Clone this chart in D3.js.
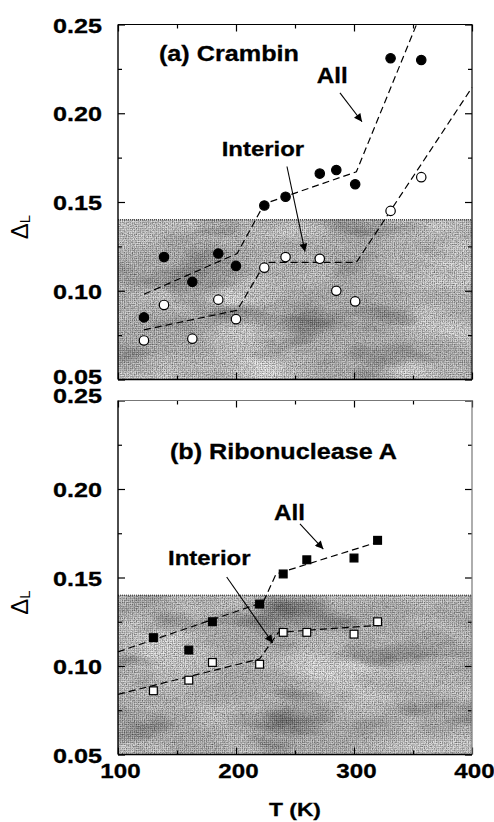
<!DOCTYPE html>
<html>
<head>
<meta charset="utf-8">
<script src="https://cdnjs.cloudflare.com/ajax/libs/d3/7.8.5/d3.min.js"></script>
<style>
  body { margin: 0; background: #fff; }
  text { font-family: "Liberation Sans", Arial, sans-serif; }
</style>
</head>
<body>
<svg id="chart" width="494" height="822"></svg>
<script>
// ---- data ----
var crambinT        = [ 122, 139, 163, 185, 200, 224, 242, 271, 285, 301, 331, 357 ];
var crambinAll      = [ 0.085, 0.119, 0.105, 0.121, 0.114, 0.148, 0.153, 0.166, 0.168, 0.160, 0.231, 0.230 ];
var crambinInterior = [ 0.072, 0.092, 0.073, 0.095, 0.084, 0.113, 0.119, 0.118, 0.100, 0.094, 0.145, 0.164 ];

var crambinAllFitT  = [ 122, 201, 224, 302, 353 ];
var crambinAllFit   = [ 0.098, 0.121, 0.149, 0.167, 0.250 ];
var crambinIntFitT  = [ 122, 201, 225, 302, 400 ];
var crambinIntFit   = [ 0.078, 0.089, 0.116, 0.116, 0.2145 ];

var ribT        = [ 130, 160, 180, 220, 240, 260, 300, 320 ];
var ribAll      = [ 0.116, 0.109, 0.125, 0.135, 0.152, 0.160, 0.161, 0.171 ];
var ribInterior = [ 0.086, 0.092, 0.102, 0.101, 0.119, 0.119, 0.118, 0.125 ];

var ribAllFitT  = [ 100, 223, 234, 320 ];
var ribAllFit   = [ 0.108, 0.136, 0.152, 0.170 ];
var ribIntFitT  = [ 100, 220, 236, 320 ];
var ribIntFit   = [ 0.084, 0.104, 0.119, 0.123 ];

var xMajor = [ 100, 200, 300, 400 ];
var xMinor = [ 150, 250, 350 ];
var yMajor = [ 0.05, 0.10, 0.15, 0.20, 0.25 ];
var yMinor = [ 0.075, 0.125, 0.175, 0.225 ];
var shadeLevel = 0.14;

// ---- layout ----
var MARGIN = { left: 118, right: 472 };
var svg = d3.select( "#chart" );
var x = d3.scaleLinear().domain( [ 100, 400 ] ).range( [ MARGIN.left, MARGIN.right ] );

var panels = [
  { top: 24.5, bottom: 379.5, marker: "circle",
    title: "(a) Crambin", titleAt: [ 134.7, 0.2295 ], titleW: 140,
    all: crambinAll, interior: crambinInterior, T: crambinT,
    allFit: [ crambinAllFitT, crambinAllFit ], intFit: [ crambinIntFitT, crambinIntFit ],
    allLabel: [ 268.4, 0.217 ], intLabel: [ 187.9, 0.1757 ],
    allArrow: [ [ 288.1, 0.2115 ], [ 306.8, 0.1952 ] ],
    intArrow: [ [ 243.2, 0.170 ], [ 258.5, 0.122 ] ], faint: false, seed: 4 },
  { top: 400.5, bottom: 754.5, marker: "square",
    title: "(b) Ribonuclease A", titleAt: [ 144, 0.217 ], titleW: 227,
    all: ribAll, interior: ribInterior, T: ribT,
    allFit: [ ribAllFitT, ribAllFit ], intFit: [ ribIntFitT, ribIntFit ],
    allLabel: [ 232.2, 0.1826 ], intLabel: [ 142.4, 0.1572 ],
    allArrow: [ [ 254.2, 0.1803 ], [ 274, 0.1661 ] ],
    intArrow: [ [ 192.1, 0.1503 ], [ 231.1, 0.113 ] ], faint: true, seed: 9 }
];

// ---- defs: arrowhead, texture ----
var defs = svg.append( "defs" );
defs.append( "marker" )
  .attr( "id", "arrow" ).attr( "viewBox", "0 0 10 10" )
  .attr( "refX", 10 ).attr( "refY", 5 )
  .attr( "markerWidth", 10 ).attr( "markerHeight", 8 )
  .attr( "markerUnits", "userSpaceOnUse" )
  .attr( "orient", "auto" )
  .append( "path" ).attr( "d", "M0,0 L10,5 L0,10 z" ).attr( "fill", "#000" );

function noiseFilter( id, freq, seed, matrix ){
  var f = defs.append( "filter" ).attr( "id", id )
    .attr( "x", 0 ).attr( "y", 0 ).attr( "width", 1 ).attr( "height", 1 );
  f.append( "feTurbulence" ).attr( "type", "fractalNoise" )
    .attr( "baseFrequency", freq ).attr( "numOctaves", 3 ).attr( "seed", seed );
  f.append( "feColorMatrix" ).attr( "type", "matrix" ).attr( "values", matrix );
}
panels.forEach( function( p, i ){
  noiseFilter( "light" + i, "0.01 0.025", p.seed, "0 0 0 0 1  0 0 0 0 1  0 0 0 0 1  1.6 0 0 0 -0.62" );
  noiseFilter( "dark" + i, "0.012 0.03", p.seed + 20, "0 0 0 0 0  0 0 0 0 0  0 0 0 0 0  0 1.0 0 0 -0.52" );
} );
noiseFilter( "grain", "0.9", 2, "0 0 0 0 0  0 0 0 0 0  0 0 0 0 0  0.9 0 0 0 -0.32" );

var dither = defs.append( "pattern" ).attr( "id", "dither" )
  .attr( "width", 2 ).attr( "height", 2 ).attr( "patternUnits", "userSpaceOnUse" );
dither.append( "rect" ).attr( "width", 1 ).attr( "height", 1 ).attr( "fill", "#000" ).attr( "opacity", 0.16 );
dither.append( "rect" ).attr( "x", 1 ).attr( "y", 1 ).attr( "width", 1 ).attr( "height", 1 ).attr( "fill", "#fff" ).attr( "opacity", 0.25 );

function stretch( sel, k ){
  sel.each( function(){
    var w = this.getComputedTextLength();
    d3.select( this ).attr( "textLength", w * k ).attr( "lengthAdjust", "spacingAndGlyphs" );
  } );
}

function boldText( g, str, px, py, size ){
  return g.append( "text" )
    .attr( "x", px ).attr( "y", py )
    .attr( "font-size", size ).attr( "font-weight", "bold" )
    .attr( "stroke", "#000" ).attr( "stroke-width", 0.3 )
    .text( str );
}

panels.forEach( function( p, idx ){
  var y = d3.scaleLinear().domain( [ 0.05, 0.25 ] ).range( [ p.bottom, p.top ] );
  var g = svg.append( "g" );
  var w = x( 400 ) - x( 100 );

  // shaded region below 0.14
  var sh = g.append( "g" );
  var sy = y( shadeLevel ), sh_h = y( 0.05 ) - y( shadeLevel );
  function shadeRect(){
    return sh.append( "rect" ).attr( "x", x( 100 ) ).attr( "y", sy ).attr( "width", w ).attr( "height", sh_h );
  }
  shadeRect().attr( "fill", "#bebebe" );
  shadeRect().attr( "fill", "#000" ).attr( "filter", "url(#light" + idx + ")" );
  shadeRect().attr( "fill", "#000" ).attr( "filter", "url(#dark" + idx + ")" );
  shadeRect().attr( "fill", "#000" ).attr( "filter", "url(#grain)" );
  shadeRect().attr( "fill", "url(#dither)" );
  g.append( "line" )
    .attr( "x1", x( 100 ) ).attr( "x2", x( 400 ) ).attr( "y1", sy ).attr( "y2", sy )
    .attr( "stroke", "#222" ).attr( "stroke-width", 1 ).attr( "stroke-dasharray", "1,1" );

  // ticks (inward) on all four sides
  function ticks( axisFn, vals, size, tx ){
    var a = g.append( "g" ).attr( "transform", tx ).call( axisFn.tickValues( vals ).tickSize( -size ).tickFormat( "" ) );
    a.select( ".domain" ).remove();
    a.selectAll( "line" ).attr( "stroke", "#000" ).attr( "stroke-width", 1.2 );
  }
  ticks( d3.axisLeft( y ), yMajor, 7, "translate(" + x( 100 ) + ",0)" );
  ticks( d3.axisLeft( y ), yMinor, 4, "translate(" + x( 100 ) + ",0)" );
  ticks( d3.axisRight( y ), yMajor, 7, "translate(" + x( 400 ) + ",0)" );
  ticks( d3.axisRight( y ), yMinor, 4, "translate(" + x( 400 ) + ",0)" );
  ticks( d3.axisBottom( x ), xMajor, 7, "translate(0," + p.bottom + ")" );
  ticks( d3.axisBottom( x ), xMinor, 4, "translate(0," + p.bottom + ")" );
  ticks( d3.axisTop( x ), xMajor, 7, "translate(0," + p.top + ")" );
  ticks( d3.axisTop( x ), xMinor, 4, "translate(0," + p.top + ")" );

  // frame
  var fc = p.faint ? "#777" : "#000";
  g.append( "line" ).attr( "x1", x( 100 ) ).attr( "x2", x( 400 ) ).attr( "y1", p.top ).attr( "y2", p.top ).attr( "stroke", fc ).attr( "stroke-width", 1.2 );
  g.append( "line" ).attr( "x1", x( 400 ) ).attr( "x2", x( 400 ) ).attr( "y1", p.top ).attr( "y2", p.bottom ).attr( "stroke", fc ).attr( "stroke-width", 1.2 );
  g.append( "line" ).attr( "x1", x( 100 ) ).attr( "x2", x( 400 ) ).attr( "y1", p.bottom ).attr( "y2", p.bottom ).attr( "stroke", "#000" ).attr( "stroke-width", 1.4 );
  g.append( "line" ).attr( "x1", x( 100 ) ).attr( "x2", x( 100 ) ).attr( "y1", p.top ).attr( "y2", p.bottom ).attr( "stroke", "#000" ).attr( "stroke-width", 1.4 );

  // y tick labels; the two labels where the panels meet are nudged apart
  var yl = g.append( "g" ).attr( "transform", "translate(" + x( 100 ) + ",0)" )
    .call( d3.axisLeft( y ).tickValues( yMajor ).tickSize( 0 ).tickPadding( 16 ).tickFormat( d3.format( ".2f" ) ) );
  yl.select( ".domain" ).remove();
  yl.selectAll( "text" )
    .attr( "font-family", "Liberation Sans, Arial, sans-serif" )
    .attr( "font-size", 21 ).attr( "font-weight", "bold" ).attr( "fill", "#000" )
    .attr( "stroke", "#000" ).attr( "stroke-width", 0.3 )
    .attr( "dy", function( d ){
      if( idx == 0 && d == 0.05 ) return 4;
      if( idx == 1 && d == 0.25 ) return 1.5;
      return 7.5;
    } );
  stretch( yl.selectAll( "text" ), 1.2 );

  // y axis title: Delta_L
  var yt = g.append( "text" )
    .attr( "transform", "translate(28," + ( ( p.top + p.bottom ) / 2 + 25 ) + ") rotate(-90)" )
    .attr( "text-anchor", "middle" )
    .attr( "font-size", 24 );
  yt.append( "tspan" ).text( "\u0394" );
  yt.append( "tspan" ).attr( "font-size", 15 ).attr( "dy", 2 ).text( "L" );

  // x tick labels + title on the bottom panel only
  if( idx == panels.length - 1 ){
    var xl = g.append( "g" ).attr( "transform", "translate(2," + p.bottom + ")" )
      .call( d3.axisBottom( x ).tickValues( xMajor ).tickSize( 0 ).tickPadding( 9 ).tickFormat( d3.format( "d" ) ) );
    xl.select( ".domain" ).remove();
    xl.selectAll( "text" )
      .attr( "font-family", "Liberation Sans, Arial, sans-serif" )
      .attr( "font-size", 21 ).attr( "font-weight", "bold" ).attr( "fill", "#000" )
      .attr( "stroke", "#000" ).attr( "stroke-width", 0.3 );
    stretch( xl.selectAll( "text" ), 1.15 );

    var xt = boldText( g, "T (K)", ( x( 100 ) + x( 400 ) ) / 2, 816, 19 ).attr( "text-anchor", "middle" );
    stretch( xt, 1.2 );
  }

  // dashed fit lines
  var line = d3.line().x( function( d ){ return x( d[ 0 ] ); } ).y( function( d ){ return y( d[ 1 ] ); } );
  [ p.allFit, p.intFit ].forEach( function( f ){
    g.append( "path" )
      .datum( d3.zip( f[ 0 ], f[ 1 ] ) )
      .attr( "d", line )
      .attr( "fill", "none" ).attr( "stroke", "#000" ).attr( "stroke-width", 1.2 )
      .attr( "stroke-dasharray", "7,4" );
  } );

  // markers
  var series = [ { vals: p.all, fill: "#000" }, { vals: p.interior, fill: "#fff" } ];
  series.forEach( function( s ){
    var pts = d3.zip( p.T, s.vals );
    if( p.marker == "circle" ){
      g.selectAll( null ).data( pts ).enter().append( "circle" )
        .attr( "cx", function( d ){ return x( d[ 0 ] ); } )
        .attr( "cy", function( d ){ return y( d[ 1 ] ); } )
        .attr( "r", 4.7 )
        .attr( "fill", s.fill ).attr( "stroke", "#000" ).attr( "stroke-width", 1.2 );
    } else {
      var sz = 7.8;
      g.selectAll( null ).data( pts ).enter().append( "rect" )
        .attr( "x", function( d ){ return x( d[ 0 ] ) - sz / 2; } )
        .attr( "y", function( d ){ return y( d[ 1 ] ) - sz / 2; } )
        .attr( "width", sz ).attr( "height", sz )
        .attr( "fill", s.fill ).attr( "stroke", "#000" ).attr( "stroke-width", 1.2 );
    }
  } );

  // annotations
  [ p.allArrow, p.intArrow ].forEach( function( a ){
    g.append( "line" )
      .attr( "x1", x( a[ 0 ][ 0 ] ) ).attr( "y1", y( a[ 0 ][ 1 ] ) )
      .attr( "x2", x( a[ 1 ][ 0 ] ) ).attr( "y2", y( a[ 1 ][ 1 ] ) )
      .attr( "stroke", "#000" ).attr( "stroke-width", 1.1 )
      .attr( "marker-end", "url(#arrow)" );
  } );

  var tt = boldText( g, p.title, x( p.titleAt[ 0 ] ), y( p.titleAt[ 1 ] ), 22 );
  tt.attr( "textLength", p.titleW ).attr( "lengthAdjust", "spacingAndGlyphs" );
  stretch( boldText( g, "All", x( p.allLabel[ 0 ] ), y( p.allLabel[ 1 ] ), 22 ), 1.1 );
  stretch( boldText( g, "Interior", x( p.intLabel[ 0 ] ), y( p.intLabel[ 1 ] ), 21 ), 1.14 );
} );
</script>
</body>
</html>
